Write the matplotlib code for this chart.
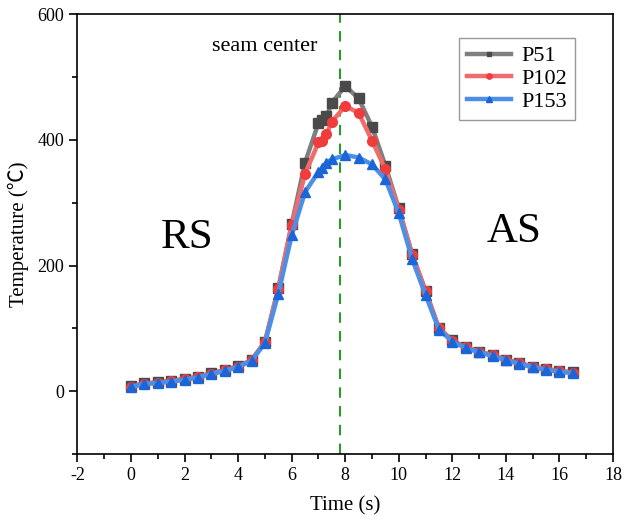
import numpy as np
import matplotlib.pyplot as plt

# 测点时间 (s)
time = [0, 0.5, 1, 1.5, 2, 2.5, 3, 3.5, 4, 4.5, 5, 5.5, 6, 6.5,
        7.0, 7.15, 7.3, 7.5, 8, 8.5, 9, 9.5, 10, 10.5, 11, 11.5,
        12, 12.5, 13, 13.5, 14, 14.5, 15, 15.5, 16, 16.5]

# 三个测点的温度 (℃)
p51 = [7.5, 12.5, 14, 16.5, 19.5, 23, 28.5, 33.5, 39.5, 49.5, 78.5, 164, 266, 364,
       427, 432, 438, 459, 486, 466, 421, 359, 291, 218, 160, 100,
       81, 70, 63, 57, 50, 45, 39, 35, 32, 30]
p102 = [7, 12, 13.5, 16, 19, 22.5, 28, 33, 39, 49, 78, 163, 264, 346,
        396, 398, 409, 429, 454, 443, 399, 353, 289, 217, 159, 100,
        80, 69.5, 63, 57, 50, 44.5, 39, 35, 32, 29.5]
p153 = [6.4, 11.6, 12.8, 15.3, 18, 21.7, 27.1, 32.4, 38.3, 48.3, 76.6, 155, 248, 317,
        349, 355, 364, 369, 376, 372, 361, 337, 283, 210, 153, 98,
        79, 68.5, 62, 56, 49, 43.5, 38, 34, 31, 28.6]

seam_x = 7.8

plt.rcParams['font.family'] = ['Liberation Serif', 'Noto Sans CJK SC']
plt.rcParams['axes.unicode_minus'] = False

fig = plt.figure(figsize=(6.33, 5.2), dpi=100)
ax = fig.add_axes([0.1224, 0.127, 0.846, 0.8455])

ax.plot(time, p51, color='#7f7f7f', lw=3.2, marker='s', ms=6.5,
        mfc='#4a4a4a', mec='#4a4a4a', label='P51', zorder=3)
ax.plot(time, p102, color='#f26b6b', lw=3.2, marker='o', ms=7,
        mfc='#f03c3c', mec='#f03c3c', label='P102', zorder=4)
ax.plot(time, p153, color='#4d8fe6', lw=3.2, marker='^', ms=7.5,
        mfc='#1a66d9', mec='#1a66d9', label='P153', zorder=5)

# 焊缝中心线
ax.axvline(seam_x, color='#2a9a2a', ls=(0, (5, 4)), lw=1.5, zorder=2)

ax.text(4.98, 549, 'seam center', fontsize=16, ha='center', va='center')
ax.text(2.1, 244, 'RS', fontsize=31, ha='center', va='center')
ax.text(14.3, 254, 'AS', fontsize=31, ha='center', va='center')

ax.set_xlim(-2, 18)
ax.set_ylim(-100, 600)
ax.set_xticks(np.arange(-2, 19, 2))
ax.set_xticks(np.arange(-1, 18, 2), minor=True)
ax.set_yticks([0, 200, 400, 600])
ax.set_yticks([-100, 100, 300, 500], minor=True)
ax.tick_params(which='both', direction='out', labelsize=13, width=1.2)
ax.tick_params(which='major', length=6)
ax.tick_params(which='minor', length=3.5)
for s in ax.spines.values():
    s.set_linewidth(1.2)

ax.set_xlabel('Time (s)', fontsize=15, labelpad=9)
ax.set_ylabel('Temperature (℃)', fontsize=15, labelpad=6)

leg = ax.legend(loc='upper right', bbox_to_anchor=(0.929, 0.946), borderaxespad=0,
                fontsize=16, frameon=True, fancybox=False, edgecolor='#808080',
                markerscale=0.55, handlelength=2.0, borderpad=0.35,
                labelspacing=0.1, handletextpad=0.45)
leg.get_frame().set_linewidth(1.0)

fig.savefig('out.png', dpi=100)
